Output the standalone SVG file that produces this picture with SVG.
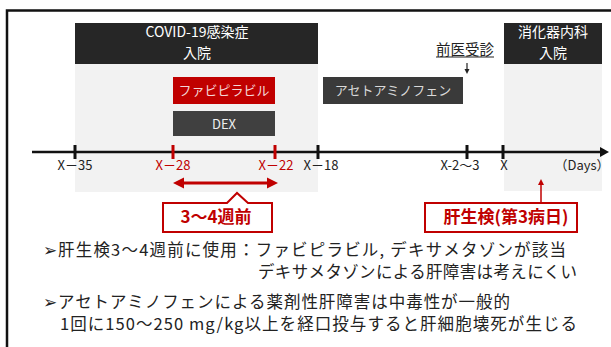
<svg xmlns="http://www.w3.org/2000/svg" width="611" height="347" viewBox="0 0 611 347">
<defs>
<style>
.jp{font-family:"Noto Sans CJK JP","Noto Sans",sans-serif;}
.hd{font-size:14px;fill:#ffffff;text-anchor:middle;}
.bx{font-size:13px;text-anchor:middle;}
.tl{font-size:13px;fill:#222;text-anchor:middle;}
.red{fill:#c00000;}
.body{font-size:16.5px;fill:#222;}
.call{font-size:17px;font-weight:bold;fill:#c00000;text-anchor:middle;}
</style>
</defs>
<rect width="611" height="347" fill="#ffffff"/>
<!-- frame -->
<path d="M7,347 V10.5 H611" fill="none" stroke="#111" stroke-width="2.5"/>

<!-- background panels -->
<rect x="75" y="64" width="243" height="128" fill="#f2f2f2"/>
<rect x="504" y="64" width="98" height="127" fill="#f2f2f2"/>

<g id="covid">
<rect x="75" y="23" width="243" height="41" fill="#262626"/>
<text class="jp hd" x="197" y="37">COVID-19感染症</text>
<text class="jp hd" x="197" y="58">入院</text>
</g>
<g id="gi">
<rect x="504" y="23" width="98" height="41" fill="#262626"/>
<text class="jp hd" x="553" y="37">消化器内科</text>
<text class="jp hd" x="553" y="58">入院</text>
</g>
<g id="favi">
<rect x="173" y="77" width="102" height="27" fill="#c00000"/>
<text class="jp bx" x="224" y="94.5" fill="#f4d6d6">ファビピラビル</text>
</g>
<g id="dex">
<rect x="173" y="111" width="102" height="25" fill="#404040"/>
<text class="jp bx" x="224" y="128.5" fill="#eeeeee">DEX</text>
</g>
<g id="acet">
<rect x="323" y="77" width="140" height="27" fill="#3a3a3a"/>
<text class="jp bx" x="393" y="94.5" fill="#d9d9d9">アセトアミノフェン</text>
</g>
<g id="prev">
<text class="jp" x="465" y="55" font-size="14.5" fill="#222" text-anchor="middle">前医受診</text>
<line x1="436" y1="57" x2="494" y2="57" stroke="#222" stroke-width="1"/>
</g>

<g id="connectors">
<!-- timeline -->
<line x1="32" y1="152" x2="601" y2="152" stroke="#111" stroke-width="2.5"/>
<path d="M600,147 L609,152 L600,157 Z" fill="#111"/>
<g stroke-width="3">
<line x1="75" y1="145" x2="75" y2="159" stroke="#111"/>
<line x1="173" y1="145" x2="173" y2="159" stroke="#c00000"/>
<line x1="275" y1="145" x2="275" y2="159" stroke="#c00000"/>
<line x1="318" y1="145" x2="318" y2="159" stroke="#111"/>
<line x1="467" y1="145" x2="467" y2="159" stroke="#111"/>
<line x1="503" y1="145" x2="503" y2="159" stroke="#111"/>
</g>
<!-- prev visit arrow -->
<line x1="467" y1="63" x2="467" y2="72" stroke="#222" stroke-width="1.2"/>
<path d="M464.5,69 L467,74 L469.5,69 Z" fill="#222"/>
<!-- double arrow -->
<line x1="182" y1="183" x2="268" y2="183" stroke="#c00000" stroke-width="3"/>
<path d="M173,183 L184,177.5 L184,188.5 Z" fill="#c00000"/>
<path d="M278,183 L267,177.5 L267,188.5 Z" fill="#c00000"/>
<!-- biopsy arrow -->
<line x1="541" y1="203" x2="541" y2="184" stroke="#c00000" stroke-width="1.5"/>
<path d="M538,185 L541,179 L544,185 Z" fill="#c00000"/>
</g>

<g id="labels">
<text class="jp tl" x="75" y="170">X－35</text>
<text class="jp tl red" x="173" y="170">X－28</text>
<text class="jp tl red" x="276" y="170">X－22</text>
<text class="jp tl" x="321" y="170">X－18</text>
<text class="jp tl" x="460" y="170">X-2～3</text>
<text class="jp tl" x="504" y="170">X</text>
<text class="jp tl" x="582" y="170">（Days）</text>
</g>

<g id="callout1">
<path d="M163,203 H227 L237,193 L248,203 H272 V232 H163 Z" fill="#ffffff" stroke="#c00000" stroke-width="2"/>
<text class="jp call" x="216" y="223">3～4週前</text>
</g>
<g id="callout2">
<rect x="425" y="203" width="152" height="29" fill="#ffffff" stroke="#c00000" stroke-width="2"/>
<text class="jp call" x="506" y="223">肝生検(第3病日)</text>
</g>

<g id="text">
<text class="jp body" x="43" y="256" font-size="12">➢</text>
<text class="jp body" x="58" y="256" textLength="508" lengthAdjust="spacing">肝生検3～4週前に使用：ファビピラビル, デキサメタゾンが該当</text>
<text class="jp body" x="258" y="278" textLength="319" lengthAdjust="spacing">デキサメタゾンによる肝障害は考えにくい</text>
<text class="jp body" x="43" y="308" font-size="12">➢</text>
<text class="jp body" x="58" y="308" textLength="452" lengthAdjust="spacing">アセトアミノフェンによる薬剤性肝障害は中毒性が一般的</text>
<text class="jp body" x="60" y="330" textLength="517" lengthAdjust="spacing">1回に150～250 mg/kg以上を経口投与すると肝細胞壊死が生じる</text>
</g>
</svg>
